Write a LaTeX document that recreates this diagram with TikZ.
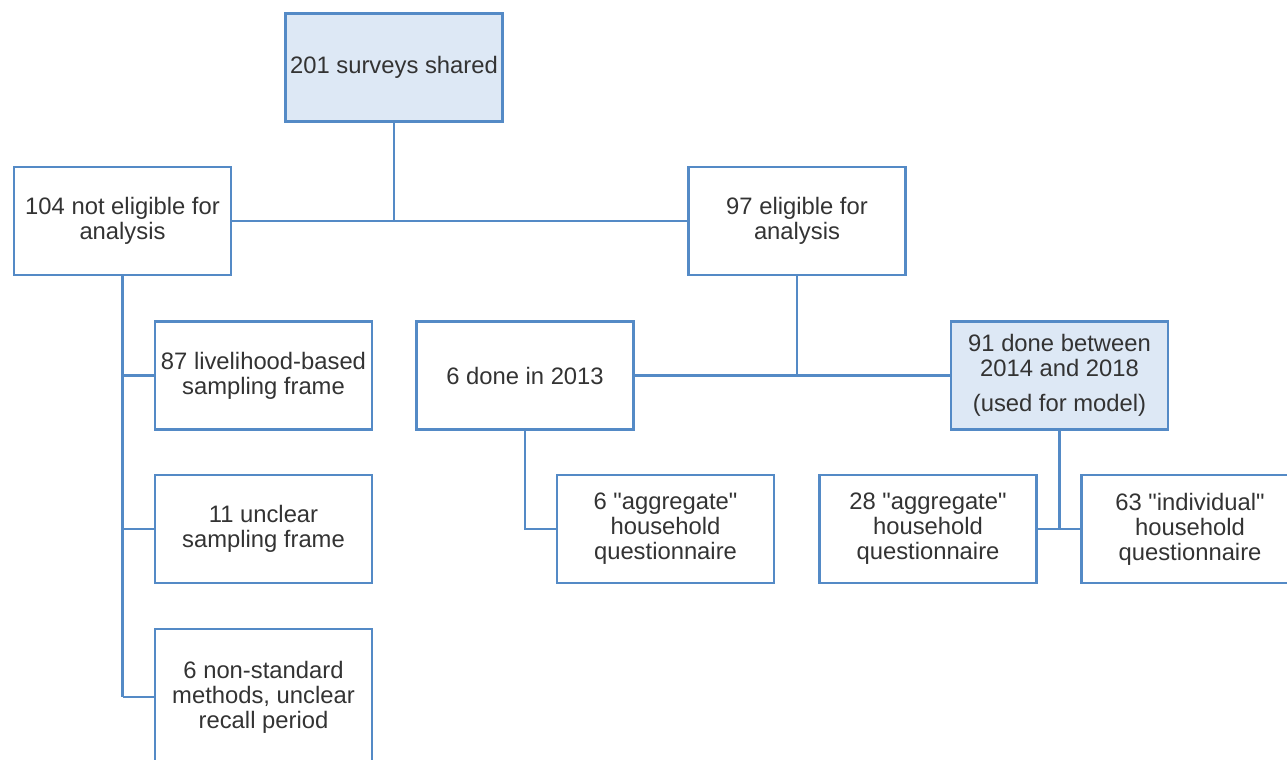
\documentclass[tikz,border=0pt]{standalone}
\usepackage{fontspec}
\setmainfont{Liberation Sans}
\definecolor{boxline}{RGB}{84,138,198}
\definecolor{boxfill}{RGB}{221,232,245}
\definecolor{boxtext}{RGB}{51,51,51}
\newcommand{\qt}[1]{\textquotedbl#1\textquotedbl}
\tikzset{
  survey/.style={draw=boxline, line width=1.2pt, minimum width=108.5pt, minimum height=54pt,
    align=center, text=boxtext, inner sep=2pt, font=\fontsize{11.9}{12.5}\selectfont},
  kept/.style={survey, fill=boxfill},
  link/.style={draw=boxline, line width=1.3pt}
}

\begin{document}
\begin{tikzpicture}[x=0.5pt,y=-0.5pt]
  \useasboundingbox (0,0) rectangle (1287,760);
  \clip (0,0) rectangle (1287,760);

  % Livello 1-2
  \node[kept] (shared) at (394,67.5) {201 surveys shared};
  \node[survey] (noelig) at (122.5,221) {104 not eligible for\\analysis};
  \node[survey] (elig) at (797,221) {97 eligible for\\analysis};

  % Esclusi
  \node[survey] (livelihood) at (263.5,375.5) {87 livelihood-based\\sampling frame};
  \node[survey] (unclear) at (263.5,529) {11 unclear\\sampling frame};
  \node[survey, minimum height=68pt] (nonstd) at (263.5,697) {6 non-standard\\methods, unclear\\recall period};

  % Eleggibili
  \node[survey] (y2013) at (525,375.5) {6 done in 2013};
  \node[kept] (y1418) at (1059.5,375.5) {91 done between\\2014 and 2018\\[5pt](used for model)};
  \node[survey] (agg6) at (665.5,529) {6 \qt{aggregate}\\household\\questionnaire};
  \node[survey] (agg28) at (928,529) {28 \qt{aggregate}\\household\\questionnaire};
  \node[survey] (indiv63) at (1190,529) {63 \qt{individual}\\household\\questionnaire};

  % Collegamenti
  \draw[link] (noelig.east) -- (elig.west);
  \draw[link] (shared.south) -- (shared |- elig.west);
  \draw[link] (noelig.south) -- (noelig.south |- nonstd.west);
  \foreach \n in {livelihood, unclear, nonstd}
    \draw[link] (noelig.south |- \n.west) -- (\n.west);
  \draw[link] (y2013.east) -- (y1418.west);
  \draw[link] (elig.south) -- (elig |- y1418.west);
  \draw[link] (y2013.south) |- (agg6.west);
  \draw[link] (agg28.east) -- (indiv63.west);
  \draw[link] (y1418.south) -- (y1418 |- agg28.east);
\end{tikzpicture}
\end{document}
